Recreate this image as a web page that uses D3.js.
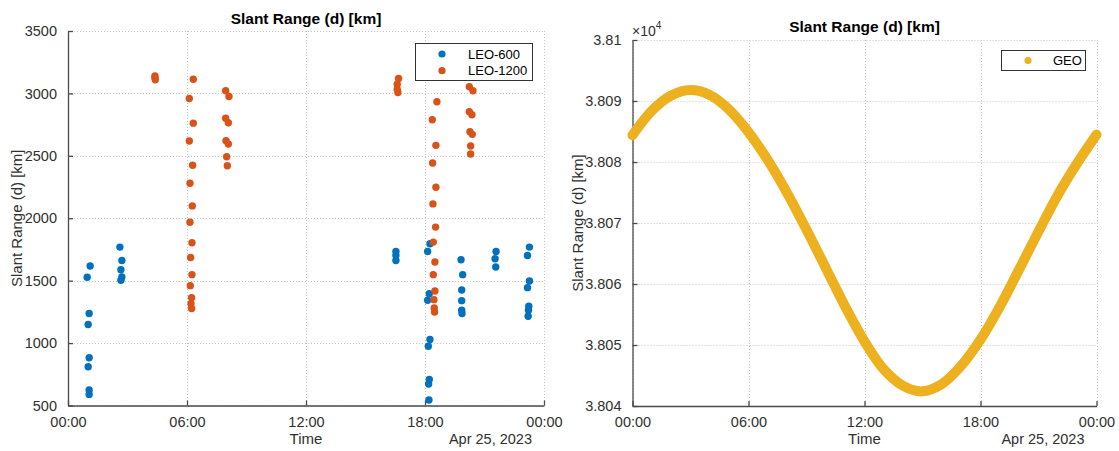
<!DOCTYPE html>
<html>
<head>
<meta charset="utf-8">
<script src="https://cdn.jsdelivr.net/npm/d3@7/dist/d3.min.js"></script>
<style>
  html, body { margin: 0; padding: 0; background: #ffffff; }
  svg { display: block; font-family: "Liberation Sans", Arial, Helvetica, sans-serif; }
</style>
</head>
<body>
<svg id="chart" width="1119" height="451"></svg>
<script>
// ---- Data -------------------------------------------------------------
// Day shown on both time axes
const dayStart = "2023-04-25T00:00:00";

// LEO-600 slant range samples (time of day, km)
const leo600Times = [
  "01:07","00:58","01:04","01:01","01:04","01:01","01:04","01:04",
  "02:37","02:43","02:40","02:43","02:40",
  "16:32","16:32","16:32",
  "18:15","18:08","18:13","18:08","18:15","18:10","18:13","18:11","18:12",
  "19:49","19:54","19:51","19:51","19:51","19:52",
  "21:35","21:32","21:34",
  "23:16","23:10","23:16","23:10","23:14","23:13","23:12"
];
const leo600Range = [
  1617,1527,1237,1149,882,810,624,589,
  1769,1662,1588,1529,1503,
  1734,1702,1662,
  1796,1734,1396,1343,1029,975,709,672,544,
  1668,1548,1425,1340,1263,1237,
  1734,1676,1609,
  1769,1702,1497,1444,1295,1263,1215
];

// LEO-1200 slant range samples (time of day, km)
const leo1200Times = [
  "04:23","04:23","04:24",
  "06:19","06:07","06:19","06:07","06:17","06:09","06:16","06:09","06:15","06:11","06:15","06:10","06:14","06:12","06:14",
  "07:57","08:07","07:57","08:05","07:58","08:05","08:00","08:02",
  "16:40","16:36","16:36","16:38",
  "18:36","18:22","18:33","18:23","18:33","18:24","18:32","18:25","18:30","18:25","18:30","18:27","18:28","18:29",
  "20:14","20:25","20:14","20:22","20:16","20:23","20:18","20:18"
];
const leo1200Range = [
  3140,3125,3110,
  3114,2959,2762,2619,2424,2280,2099,1968,1804,1686,1548,1460,1364,1316,1277,
  3021,2975,2802,2765,2621,2595,2493,2421,
  3119,3074,3034,3007,
  2933,2789,2584,2443,2248,2115,1929,1809,1649,1548,1417,1348,1281,1249,
  3053,3021,2853,2829,2693,2672,2579,2515
];

// GEO slant range, hourly (time of day, km)
const geoTimes = [
  "00:00","01:00","02:00","03:00","04:00","05:00","06:00","07:00","08:00",
  "09:00","10:00","11:00","12:00","13:00","14:00","15:00","16:00","17:00",
  "18:00","19:00","20:00","21:00","22:00","23:00","24:00"
];
const geoRange = [
  38084.4,38088.4,38090.9,38091.8,38091.0,38088.6,38084.9,38080.3,38074.9,
  38068.9,38062.6,38056.3,38050.6,38046.0,38043.3,38042.4,38043.6,38046.6,
  38050.9,38056.3,38062.4,38068.6,38074.6,38079.8,38084.5
];

// Axis ticks
const timeTickHours = [0, 6, 12, 18, 24];
const leoRangeTicks = [500, 1000, 1500, 2000, 2500, 3000, 3500];
const geoRangeTicks = [38040, 38050, 38060, 38070, 38080, 38090, 38100];

// Series names and colours
const seriesNames = ["LEO-600", "LEO-1200", "GEO"];
const seriesColors = ["#0072BD", "#D95319", "#EDB120"];

// ---- Helpers ----------------------------------------------------------
const t0 = new Date(dayStart);
const toDate = s => {
  const [h, m] = s.split(":").map(Number);
  return new Date(t0.getTime() + (h * 60 + m) * 60000);
};
const hourDate = h => new Date(t0.getTime() + h * 3600000);
const tickFmt = d3.timeFormat("%H:%M");
const dateFmt = d3.timeFormat("%b %-d, %Y");

const svg = d3.select("#chart");
const INK = "#303030";
const AXIS = "#4a4a4a";
const GRID = "#c4c4c4";
const TICK_FS = 14.5;

function drawFrame(g, x, y, yTicks, yFmt, title, titleY) {
  const [x0, x1] = x.range();
  const [yb, yt] = y.range();

  // dotted grid
  const grid = g.append("g").attr("stroke", GRID).attr("stroke-width", 1)
    .attr("stroke-dasharray", "1,2");
  timeTickHours.forEach(h => {
    const xx = Math.round(x(hourDate(h))) + 0.5;
    grid.append("line").attr("x1", xx).attr("x2", xx).attr("y1", yt).attr("y2", yb);
  });
  yTicks.forEach(v => {
    const yy = Math.round(y(v)) + 0.5;
    grid.append("line").attr("x1", x0).attr("x2", x1).attr("y1", yy).attr("y2", yy);
  });

  // axes with inward ticks
  const xAxis = d3.axisBottom(x)
    .tickValues(timeTickHours.map(hourDate))
    .tickFormat(tickFmt)
    .tickSizeInner(-5).tickSizeOuter(0).tickPadding(11);
  const gx = g.append("g").attr("transform", `translate(0,${yb})`).call(xAxis);
  gx.select(".domain").attr("stroke", AXIS).attr("stroke-width", 1.3);
  gx.selectAll(".tick line").attr("stroke", AXIS).attr("stroke-width", 1.3);
  gx.selectAll(".tick text").attr("fill", INK).attr("font-size", TICK_FS)
    .attr("font-family", "Liberation Sans, Arial, sans-serif");

  const yAxis = d3.axisLeft(y)
    .tickValues(yTicks)
    .tickFormat(yFmt)
    .tickSizeInner(-5).tickSizeOuter(0).tickPadding(11);
  const gy = g.append("g").attr("transform", `translate(${x0},0)`).call(yAxis);
  gy.select(".domain").attr("stroke", AXIS).attr("stroke-width", 1.3);
  gy.selectAll(".tick line").attr("stroke", AXIS).attr("stroke-width", 1.3);
  gy.selectAll(".tick text").attr("fill", INK).attr("font-size", TICK_FS)
    .attr("font-family", "Liberation Sans, Arial, sans-serif");

  // title
  g.append("text").attr("x", (x0 + x1) / 2).attr("y", titleY)
    .attr("text-anchor", "middle").attr("font-size", 15.5).attr("font-weight", "bold")
    .attr("fill", "#000").text(title);

  // axis labels
  g.append("text").attr("x", (x0 + x1) / 2).attr("y", yb + 38)
    .attr("text-anchor", "middle").attr("font-size", 15).attr("fill", INK).text("Time");
  g.append("text").attr("x", x1 - 12).attr("y", yb + 38)
    .attr("text-anchor", "end").attr("font-size", 14.5).attr("fill", INK).text(dateFmt(t0));
}

function drawLegend(g, x, y, w, h, items) {
  g.append("rect").attr("x", x + 0.5).attr("y", y + 0.5).attr("width", w).attr("height", h)
    .attr("fill", "#fff").attr("stroke", "#333").attr("stroke-width", 1);
  const rowH = items.length > 1 ? 16.7 : 0;
  const firstY = items.length > 1 ? y + 11 : y + h / 2 + 0.5;
  items.forEach((it, i) => {
    const cy = firstY + i * rowH;
    g.append("circle").attr("cx", x + it.mx).attr("cy", cy).attr("r", 3.6).attr("fill", it.color);
    g.append("text").attr("x", x + it.tx).attr("y", cy + 4.6).attr("font-size", 13)
      .attr("fill", "#000").text(it.name);
  });
}

// ---- Left panel: LEO slant range --------------------------------------
const xL = d3.scaleTime().domain([hourDate(0), hourDate(24)]).range([68, 544]);
const yL = d3.scaleLinear().domain([500, 3500]).range([405.5, 31]);
const left = svg.append("g");
drawFrame(left, xL, yL, leoRangeTicks, d3.format("d"), "Slant Range (d) [km]", 24);

left.append("text")
  .attr("transform", `translate(22,${(405.5 + 31) / 2}) rotate(-90)`)
  .attr("text-anchor", "middle").attr("font-size", 15).attr("fill", INK)
  .text("Slant Range (d) [km]");

const leo600 = leo600Times.map((t, i) => ({ t: toDate(t), v: leo600Range[i] }));
const leo1200 = leo1200Times.map((t, i) => ({ t: toDate(t), v: leo1200Range[i] }));

left.append("g").selectAll("circle").data(leo600).join("circle")
  .attr("cx", d => xL(d.t)).attr("cy", d => yL(d.v)).attr("r", 3.7)
  .attr("fill", seriesColors[0]);
left.append("g").selectAll("circle").data(leo1200).join("circle")
  .attr("cx", d => xL(d.t)).attr("cy", d => yL(d.v)).attr("r", 3.7)
  .attr("fill", seriesColors[1]);

drawLegend(left, 415, 43, 117, 37, [
  { name: seriesNames[0], color: seriesColors[0], mx: 27, tx: 53 },
  { name: seriesNames[1], color: seriesColors[1], mx: 27, tx: 53 }
]);

// ---- Right panel: GEO slant range -------------------------------------
const xR = d3.scaleTime().domain([hourDate(0), hourDate(24)]).range([632.5, 1096.5]);
const yR = d3.scaleLinear().domain([38040, 38100]).range([406, 40]);
const right = svg.append("g");
drawFrame(right, xR, yR, geoRangeTicks, v => String(+(v / 1e4).toFixed(4)),
  "Slant Range (d) [km]", 32);

right.append("text")
  .attr("transform", `translate(583,${(406 + 40) / 2}) rotate(-90)`)
  .attr("text-anchor", "middle").attr("font-size", 15).attr("fill", INK)
  .text("Slant Range (d) [km]");

// exponent note above the range axis
const expo = right.append("text").attr("x", 632).attr("y", 36)
  .attr("font-size", 14).attr("fill", INK);
expo.append("tspan").text("\u00d710");
expo.append("tspan").attr("dy", -7).attr("font-size", 10).text("4");

const geo = geoTimes.map((t, i) => ({ t: toDate(t), v: geoRange[i] }));
const line = d3.line().x(d => xR(d.t)).y(d => yR(d.v)).curve(d3.curveCatmullRom);
right.append("path").datum(geo).attr("d", line)
  .attr("fill", "none").attr("stroke", seriesColors[2]).attr("stroke-width", 10)
  .attr("stroke-linecap", "round").attr("stroke-linejoin", "round");

drawLegend(right, 1001, 50, 84, 20, [
  { name: seriesNames[2], color: seriesColors[2], mx: 27, tx: 52 }
]);
</script>
</body>
</html>
